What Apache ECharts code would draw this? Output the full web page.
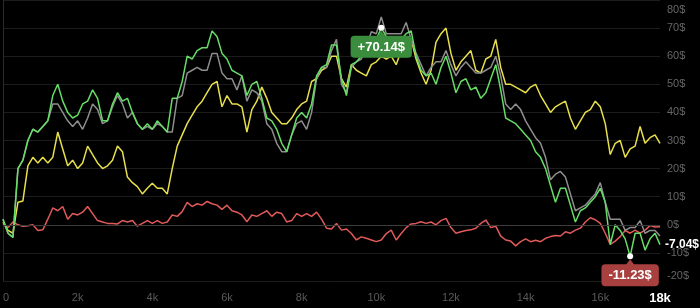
<!DOCTYPE html>
<html><head><meta charset="utf-8">
<script src="https://cdn.jsdelivr.net/npm/echarts@6/dist/echarts.min.js"></script>
<style>html,body{margin:0;padding:0;background:#000;}#c{width:700px;height:308px;}</style>
</head><body><div id="c"></div>
<script>
// x sampling (units) and axis range
const xStep = 2000 / 15;
const xMin = 0, xMax = 17600, xInterval = 2000;
const yMin = -20, yMax = 80, yInterval = 10;

const greenVals = [
  2, -3, -4.5, 20, 23, 30, 34, 33, 35, 37,
  46, 50, 44, 40, 38, 39, 43, 44, 48, 45,
  37, 37, 43, 47, 44, 45, 40, 36, 34, 36,
  34, 37, 35, 33, 45, 45, 51, 60, 59, 62,
  63, 63, 69, 67, 61, 59, 55, 54, 53, 46,
  50, 51, 45, 38, 37, 34, 29, 26, 32, 38,
  40, 38, 43, 53, 56, 57, 64, 64, 52, 46,
  57, 58, 60, 62, 64, 66, 70.14, 67, 66, 64,
  66, 68, 69, 60, 55, 53, 54, 50, 56, 60,
  54, 47, 51, 52, 48, 49, 45, 47, 52, 57,
  48, 38, 37, 36, 34, 32, 30, 26, 24, 20,
  14, 8, 13, 13, 7, 1, 5, 6, 8, 10,
  13, 8, -7, 0, -2, -5, -11.23, -3, -3, -9,
  -5, -3, -7.04
];
const grayVals = [
  2, -3, -4.5, 20, 23, 30, 34, 33, 35, 37,
  43, 43, 40, 37, 35, 37, 34, 38, 43, 41,
  36, 37, 42, 46, 43, 38, 40, 36, 34, 35,
  34, 36, 35, 33, 33, 45, 46, 54, 55, 56,
  55, 55, 61, 61, 54, 52, 52, 48, 53, 44,
  48, 47, 44, 36, 34, 29, 26, 26, 32, 36,
  37, 34, 40, 52, 56, 56, 62, 66, 50, 47,
  56, 58, 59, 63, 68.7, 68, 74, 68, 68, 68,
  68, 72, 66, 61, 57, 53, 56, 58, 58, 62,
  57, 53, 56, 58, 56, 54, 54, 55, 56, 60,
  53, 43, 41, 43, 41, 37, 34, 31, 29, 24,
  16, 18, 19, 17, 11, 5, 6, 7, 9, 11,
  15, 8, 2, 2, 2, -2, -1, -1, 1.5, -3,
  -2, -2, -4
];
const yellowVals = [
  1, -2, -3, 8, 8.5, 21, 24, 22, 24, 22,
  24, 33, 27, 21, 23, 20, 22, 28, 25, 22,
  20, 21, 23, 28, 26, 17, 15, 13.6, 11, 13,
  14.8, 13, 13, 11, 20, 28, 32, 36, 39, 42,
  44, 47, 50, 51, 42, 46, 43, 43, 42, 33,
  41, 44, 49, 45, 40, 38, 36, 36, 38, 41,
  43, 44, 51, 52, 55, 56, 60, 60, 52, 49,
  57, 55, 54, 53, 57, 58, 60, 59, 60, 57,
  62, 64, 66, 59, 54, 50, 55, 65, 68, 70,
  61, 55, 58, 60, 62, 55, 54, 59, 60, 66,
  56, 50, 50, 49, 48, 47, 49, 50, 46, 43,
  40, 42, 43, 44, 38, 34, 37, 40, 41, 44,
  42, 36, 25, 29, 30, 24, 27, 28, 35, 29,
  31, 32, 29
];
const redVals = [
  0.5, -1, 1, 0, -0.5, -0.3, 0, -2, -1.8, 2,
  6, 5, 6.5, 2, 4, 3.5, 4.5, 6.5, 4, 1.5,
  1, 0.5, 0.5, 0.3, 1.5, 1, 1.5, -0.5, 0.5, 1.5,
  0.5, 1.5, 0.5, 1, 3.5, 3, 4.7, 8, 6.5, 7.5,
  7, 8.3, 7.5, 7, 5.5, 7, 5, 4.5, 3.5, 1.1,
  3.5, 3, 4, 5, 3, 4.5, 4, 1, 1.5, 4,
  3, 4, 3, 4.5, 2, -1.2, -1.5, 0.5, -1.9, -1.5,
  -3.1, -5.4, -4.3, -4.8, -5.4, -6, -5.4, -3.1, -1.9, -5.4,
  -3.1, -1, 0.3, 0.5, 1.1, 0.5, 1, 0, 1.5, 2.3,
  -1, -3, -2.5, -2, -1.8, -1.2, 0.5, 1.7, -1, -0.5,
  -4, -5.4, -5.8, -7.5, -6, -5, -6, -5.5, -6, -4.8,
  -4.2, -3.8, -4, -2.5, -3, -1.9, -1.2, 1, 2.5, 1.8,
  0.5, -3, -7, -5.8, -4.2, -2, -3, -1.9, -3, -1.9,
  -0.3, -0.8, -0.7
];

const xs = greenVals.map((_, i) => i * xStep);
const pts = arr => arr.map((v, i) => [xs[i], v]);

const FONT = 'Liberation Sans, Arial, sans-serif';
const C = { green: '#66dd66', gray: '#8e8e8e', yellow: '#e8df4c', red: '#e05a5a', boxG: '#3b8d3e', boxR: '#a8403f' };

function line(name, vals, color, extra) {
  return Object.assign({
    name, type: 'line', data: pts(vals), showSymbol: false, symbol: 'none',
    lineStyle: { color, width: 1.5 }, itemStyle: { color }, silent: true
  }, extra || {});
}
const fmtMoney = v => (v > 0 ? '+' : '') + v.toFixed(2) + '$';
const boxLabel = bg => ({
  show: true, position: 'bottom', distance: 5,
  formatter: p => fmtMoney(p.value),
  backgroundColor: bg, color: '#fff', fontWeight: 'bold', fontSize: 13, fontFamily: FONT,
  padding: [5, 7, 4, 7], borderRadius: 4
});

const chart = echarts.init(document.getElementById('c'), null, { renderer: 'canvas' });
chart.setOption({
  backgroundColor: '#000',
  animation: false,
  grid: { left: 0, right: 40, top: 0, bottom: 27, containLabel: false },
  xAxis: {
    type: 'value', min: xMin, max: xMax, interval: xInterval,
    axisLine: { show: true, lineStyle: { color: '#222' } },
    axisTick: { show: false },
    splitLine: { show: false },
    axisLabel: {
      color: '#5a5a5a', fontSize: 11, fontFamily: FONT, margin: 11,
      showMinLabel: true, showMaxLabel: true, alignMinLabel: 'left', alignMaxLabel: 'center',
      formatter: v => v === xMax ? '{b|' + Math.round(v / 1000) + 'k}' : (v === 0 ? '0' : (v / 1000) + 'k'),
      rich: { b: { color: '#fff', fontWeight: 'bold', fontSize: 13, fontFamily: FONT } }
    }
  },
  yAxis: {
    type: 'value', position: 'right', min: yMin, max: yMax, interval: yInterval,
    axisLine: { show: true, lineStyle: { color: '#2a2a2a' } },
    axisTick: { show: false },
    splitLine: { show: true, lineStyle: { color: '#1c1c1c', width: 1 } },
    axisLabel: {
      color: '#666', fontSize: 11, fontFamily: FONT, margin: 7,
      verticalAlignMaxLabel: 'top', verticalAlignMinLabel: 'bottom',
      formatter: v => v === yMax ? '{t|' + v + '$}' : v + '$',
      rich: { t: { padding: [4, 0, 0, 0], color: '#666', fontSize: 11, fontFamily: FONT } }
    }
  },
  series: [
    line('red', redVals, C.red, {
      markLine: {
        silent: true, symbol: 'none', label: { show: false },
        lineStyle: { color: '#3c3c3c', width: 1, type: 'solid' },
        data: [{ yAxis: 0 }]
      }
    }),
    line('yellow', yellowVals, C.yellow),
    line('gray', grayVals, C.gray),
    line('green', greenVals, C.green, {
      endLabel: {
        show: true, distance: 5, color: '#fff', fontWeight: 'bold', fontSize: 12, fontFamily: FONT,
        formatter: p => fmtMoney(p.value[1])
      },
      markPoint: {
        silent: true,
        data: [
          { type: 'max', symbol: 'triangle', symbolSize: [9, 6], symbolOffset: [0, 6], itemStyle: { color: C.boxG }, label: { show: false } },
          { type: 'min', symbol: 'triangle', symbolSize: [9, 6], symbolOffset: [0, 6], itemStyle: { color: C.boxR }, label: { show: false } },
          { type: 'max', symbol: 'circle', symbolSize: 6, itemStyle: { color: '#fff' }, label: boxLabel(C.boxG) },
          { type: 'min', symbol: 'circle', symbolSize: 6, itemStyle: { color: '#fff' }, label: boxLabel(C.boxR) }
        ]
      }
    })
  ]
});
</script></body></html>
